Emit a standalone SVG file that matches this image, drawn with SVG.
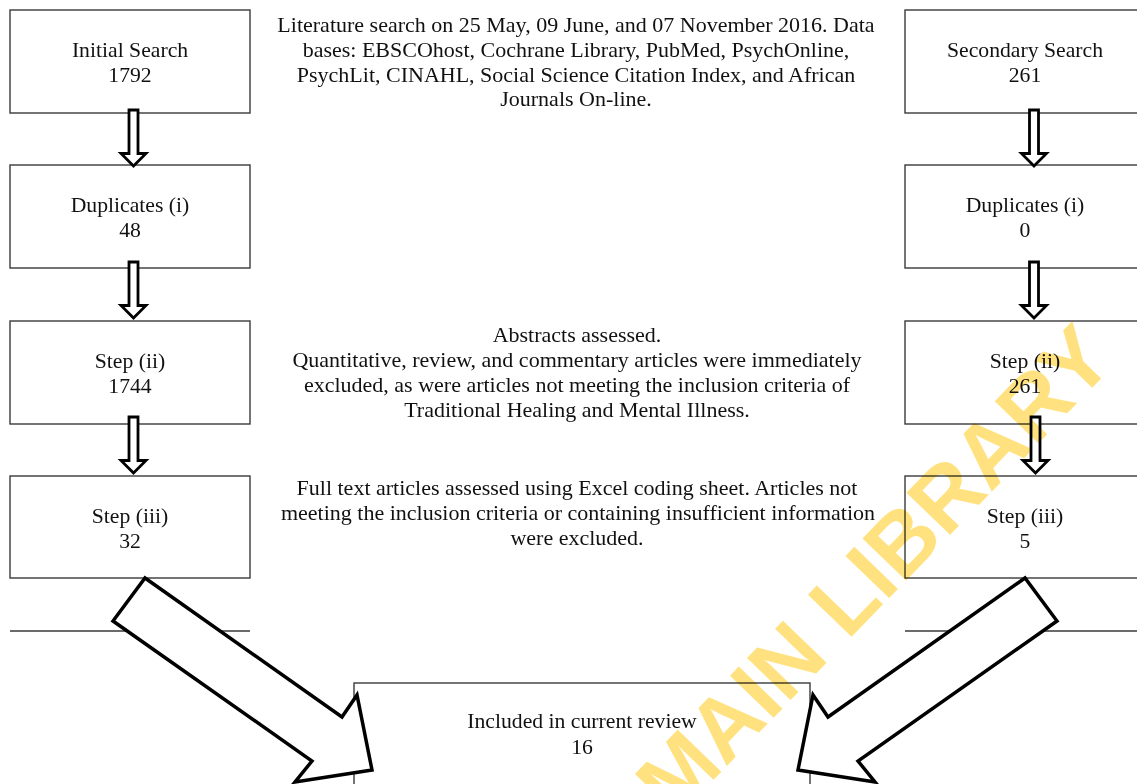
<svg xmlns="http://www.w3.org/2000/svg" width="1137" height="784" viewBox="0 0 1137 784">
<style>
.box{fill:#fff;stroke:#3a3a3a;stroke-width:1.4}
.ln{stroke:#3a3a3a;stroke-width:1.4;fill:none}
.t{font-family:"Liberation Serif","Times New Roman",serif;font-size:21.7px;fill:#111;text-anchor:middle}
.m{font-size:22px}
.sa{fill:#fff;stroke:#000;stroke-width:2.8;stroke-linejoin:miter}
.ba{fill:#fff;stroke:#000;stroke-width:3.5;stroke-linejoin:miter}
.wm{font-family:"Liberation Sans",Arial,sans-serif;font-weight:bold;font-size:88px;fill:#FFE27F;mix-blend-mode:multiply}
</style>
<defs>
<path id="sarrow" class="sa" d="M-4.5,0 V43.5 H-12.5 L0,56 L12.5,43.5 H4.5 V0 Z"/>
</defs>
<rect width="1137" height="784" fill="#fff"/>
<g id="initial-search"><rect class="box" x="10" y="10" width="240" height="103"/><text class="t" x="130" y="57">Initial Search</text><text class="t" x="130" y="82">1792</text></g>
<g id="duplicates-left"><rect class="box" x="10" y="165" width="240" height="103"/><text class="t" x="130" y="212">Duplicates (i)</text><text class="t" x="130" y="237">48</text></g>
<g id="step2-left"><rect class="box" x="10" y="321" width="240" height="103"/><text class="t" x="130" y="368">Step (ii)</text><text class="t" x="130" y="393">1744</text></g>
<g id="step3-left"><rect class="box" x="10" y="476" width="240" height="102"/><text class="t" x="130" y="523">Step (iii)</text><text class="t" x="130" y="548">32</text></g>
<g id="secondary-search"><rect class="box" x="905" y="10" width="240" height="103"/><text class="t" x="1025" y="57">Secondary Search</text><text class="t" x="1025" y="82">261</text></g>
<g id="duplicates-right"><rect class="box" x="905" y="165" width="240" height="103"/><text class="t" x="1025" y="212">Duplicates (i)</text><text class="t" x="1025" y="237">0</text></g>
<g id="step2-right"><rect class="box" x="905" y="321" width="240" height="103"/><text class="t" x="1025" y="368">Step (ii)</text><text class="t" x="1025" y="393">261</text></g>
<g id="step3-right"><rect class="box" x="905" y="476" width="240" height="102"/><text class="t" x="1025" y="523">Step (iii)</text><text class="t" x="1025" y="548">5</text></g>
<g id="lines"><line class="ln" x1="10" y1="631" x2="250" y2="631"/><line class="ln" x1="905" y1="631" x2="1137" y2="631"/></g>
<g id="included"><rect class="box" x="354" y="683" width="456" height="150"/><text class="t" x="582" y="728">Included in current review</text><text class="t" x="582" y="754">16</text></g>
<g id="note-search"><text class="t m" x="576" y="32">Literature search on 25 May, 09 June, and 07 November 2016. Data</text><text class="t m" x="576" y="57">bases: EBSCOhost, Cochrane Library, PubMed, PsychOnline,</text><text class="t m" x="576" y="81.5">PsychLit, CINAHL, Social Science Citation Index, and African</text><text class="t m" x="576" y="106">Journals On-line.</text></g>
<g id="note-abstracts"><text class="t m" x="577" y="342">Abstracts assessed.</text><text class="t m" x="577" y="367">Quantitative, review, and commentary articles were immediately</text><text class="t m" x="577" y="392">excluded, as were articles not meeting the inclusion criteria of</text><text class="t m" x="577" y="417">Traditional Healing and Mental Illness.</text></g>
<g id="note-fulltext"><text class="t m" x="577" y="495">Full text articles assessed using Excel coding sheet. Articles not</text><text class="t m" x="578" y="520">meeting the inclusion criteria or containing insufficient information</text><text class="t m" x="577" y="545">were excluded.</text></g>
<g id="connectors">
<use href="#sarrow" transform="translate(133.5,110)"/>
<use href="#sarrow" transform="translate(133.5,262)"/>
<use href="#sarrow" transform="translate(133.5,417)"/>
<use href="#sarrow" transform="translate(1034,110)"/>
<use href="#sarrow" transform="translate(1034,262)"/>
<use href="#sarrow" transform="translate(1035.5,417)"/>
<path class="ba" d="M145,578 L342,717 L357,695 L372,770 L295,782 L312,761 L113,621 Z"/>
<path class="ba" transform="matrix(-1 0 0 1 1170 0)" d="M145,578 L342,717 L357,695 L372,770 L295,782 L312,761 L113,621 Z"/>
</g>
<text class="wm" transform="translate(1117,362) rotate(-46)" text-anchor="end">N MAIN LIBRARY</text>
</svg>
